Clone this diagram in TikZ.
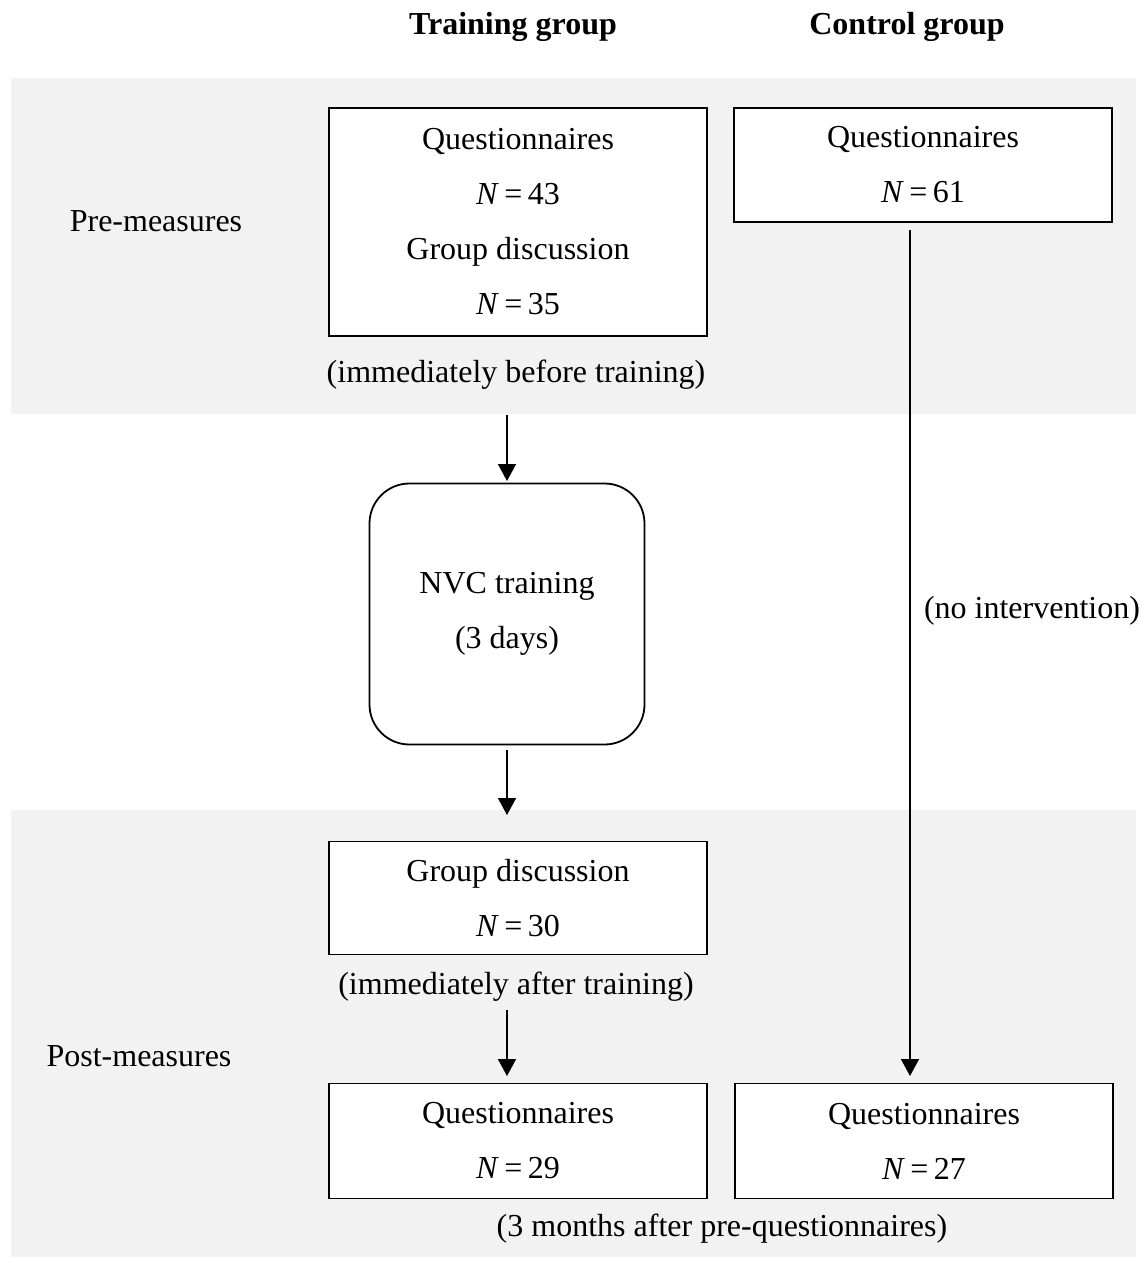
\documentclass[tikz,border=0pt]{standalone}
\usepackage{fontspec}
\setmainfont{Liberation Serif}
\usetikzlibrary{arrows.meta}
\definecolor{bandgray}{HTML}{F2F2F2}
\tikzset{
  txt/.style={font=\fontsize{16}{27.5}\selectfont, inner sep=0pt, align=center},
  hdr/.style={font=\fontsize{16}{19}\selectfont\bfseries, inner sep=0pt},
  box/.style={draw=black, line width=0.9pt, fill=white, txt, minimum width=189pt},
  rbox/.style={draw=black, line width=0.9pt, fill=white, txt, rounded corners=20pt, minimum width=137.5pt, minimum height=130.5pt},
  band/.style={fill=bandgray, draw=none},
  conn/.style={line width=0.8pt, -{Triangle[length=8.5pt,width=9pt]}},
  plain/.style={line width=0.8pt}
}
\begin{document}
\begin{tikzpicture}[x=0.5pt,y=-0.5pt]
\useasboundingbox (0,0) rectangle (1144,1263);
% bands
\fill[band] (11,78) rectangle (1136,414);
\fill[band] (11,810) rectangle (1136,1257);
% headers
\node[hdr] (hT) at (513,27) {Training group};
\node[hdr] (hC) at (907,27) {Control group};
% row labels
\node[txt] (pre) at (156,221) {Pre-measures};
\node[txt] (post) at (139,1056) {Post-measures};
% pre boxes
\node[box, minimum height=114pt] (b1) at (518,222) {Questionnaires\\ \textit{N}\,=\,43\\ Group discussion\\ \textit{N}\,=\,35};
\node[box, minimum height=57pt] (b2) at (923,165) {Questionnaires\\ \textit{N}\,=\,61};
\node[txt] (l1) at (516,375) {(immediately before training)};
% training
\node[rbox] (nvc) at (507,614) {NVC training\\ (3 days)};
% post boxes
\node[box, minimum height=56.5pt] (b3) at (518,898) {Group discussion\\ \textit{N}\,=\,30};
\node[txt] (l2) at (516,987) {(immediately after training)};
\node[box, minimum height=57.5pt] (b4) at (518,1141) {Questionnaires\\ \textit{N}\,=\,29};
\node[box, minimum height=57.5pt] (b5) at (924,1141) {Questionnaires\\ \textit{N}\,=\,27};
\node[txt] (l3) at (722,1229) {(3 months after pre-questionnaires)};
\node[txt] (l4) at (1032,611) {(no intervention)};
% connectors
\coordinate (a1s) at (507,415);
\coordinate (a1e) at (507,481);
\coordinate (a2s) at (507,750);
\coordinate (a2e) at (507,815);
\coordinate (a3s) at (507,1010);
\coordinate (a3e) at (507,1076);
\coordinate (c1s) at (910,230);
\coordinate (c1e) at (910,1076);
\draw[conn] (a1s) -- (a1e);
\draw[conn] (a2s) -- (a2e);
\draw[conn] (a3s) -- (a3e);
\draw[conn] (c1s) -- (c1e);
\end{tikzpicture}
\end{document}
